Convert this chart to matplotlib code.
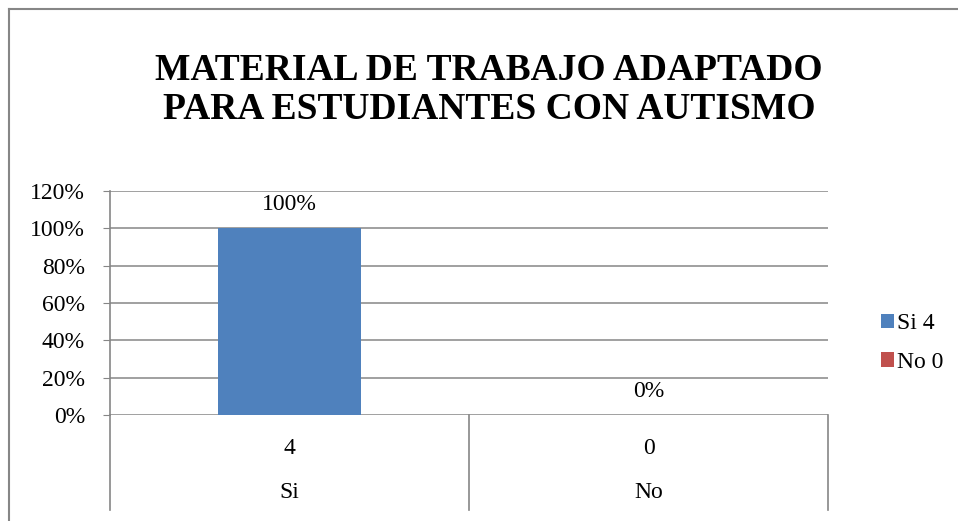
import matplotlib
matplotlib.use('Agg')
import matplotlib.pyplot as plt
import matplotlib.transforms as mtransforms
from matplotlib.lines import Line2D
from matplotlib.patches import Patch

plt.rcParams['font.family'] = ['Liberation Serif', 'DejaVu Serif']

# 数据
categories = ['Si', 'No']
counts = ['4', '0']
percentages = [1.0, 0.0]
legend_labels = ['Si 4', 'No 0']
bar_colors = ['#4F81BD', '#C0504D']
y_ticks = [0, 0.2, 0.4, 0.6, 0.8, 1.0, 1.2]
title = 'MATERIAL DE TRABAJO ADAPTADO\nPARA ESTUDIANTES CON AUTISMO'

W, H = 958, 521
fig = plt.figure(figsize=(W / 100, H / 100), dpi=100)
grid_color = '#868686'

# 坐标区 (像素位置)
left, right, top, bottom = 110, 828, 191, 415
ax = fig.add_axes([left / W, 1 - bottom / H, (right - left) / W, (bottom - top) / H])

x = list(range(len(categories)))
ax.bar(x, percentages, width=0.4, color=bar_colors, zorder=3)
ax.set_xlim(-0.5, len(categories) - 0.5)
ax.set_ylim(0, 1.2)
ax.set_yticks(y_ticks)
ax.set_yticklabels([f'{int(round(v * 100))}%' for v in y_ticks], fontsize=17)
ax.tick_params(axis='y', length=5, color=grid_color, pad=13)
ax.set_xticks([])
ax.grid(axis='y', color=grid_color, linewidth=1.1, zorder=0)
for s in ['top', 'right', 'bottom']:
    ax.spines[s].set_visible(False)
ax.spines['left'].set_color(grid_color)
ax.spines['left'].set_linewidth(1.2)

# 数据标签
for xi, p in zip(x, percentages):
    ax.text(xi, p + 0.07, f'{int(round(p * 100))}%', ha='center', va='bottom', fontsize=17)

# 双层分类轴
trans = mtransforms.blended_transform_factory(ax.transData, ax.transAxes)
axis_depth = (510 - bottom) / (bottom - top)
for xb in [-0.5, 0.5, 1.5]:
    ax.plot([xb, xb], [0, -axis_depth], transform=trans, color=grid_color,
            linewidth=1.2, clip_on=False)
for xi, c, n in zip(x, categories, counts):
    ax.text(xi, -(449 - bottom) / (bottom - top), n, transform=trans,
            ha='center', va='center', fontsize=17)
    ax.text(xi, -(493 - bottom) / (bottom - top), c, transform=trans,
            ha='center', va='center', fontsize=17)

# 图例
handles = [Patch(facecolor=c, edgecolor='none') for c in bar_colors]
fig.legend(handles, legend_labels, loc='center left', bbox_to_anchor=(869 / W, 1 - 343 / H),
           frameon=False, fontsize=17, handlelength=0.55, handleheight=0.55,
           handletextpad=0.15, labelspacing=0.75, borderpad=0)

# 标题
fig.text(489 / W, 1 - 90 / H, title, ha='center', va='center', fontsize=27,
         fontweight='bold', linespacing=1.12)

# 外框
fig.add_artist(Line2D([9 / W, 9 / W], [0, 1 - 9 / H], color=grid_color, linewidth=1.5))
fig.add_artist(Line2D([9 / W, 1], [1 - 9 / H, 1 - 9 / H], color=grid_color, linewidth=1.5))

plt.savefig('out.png', dpi=100)
